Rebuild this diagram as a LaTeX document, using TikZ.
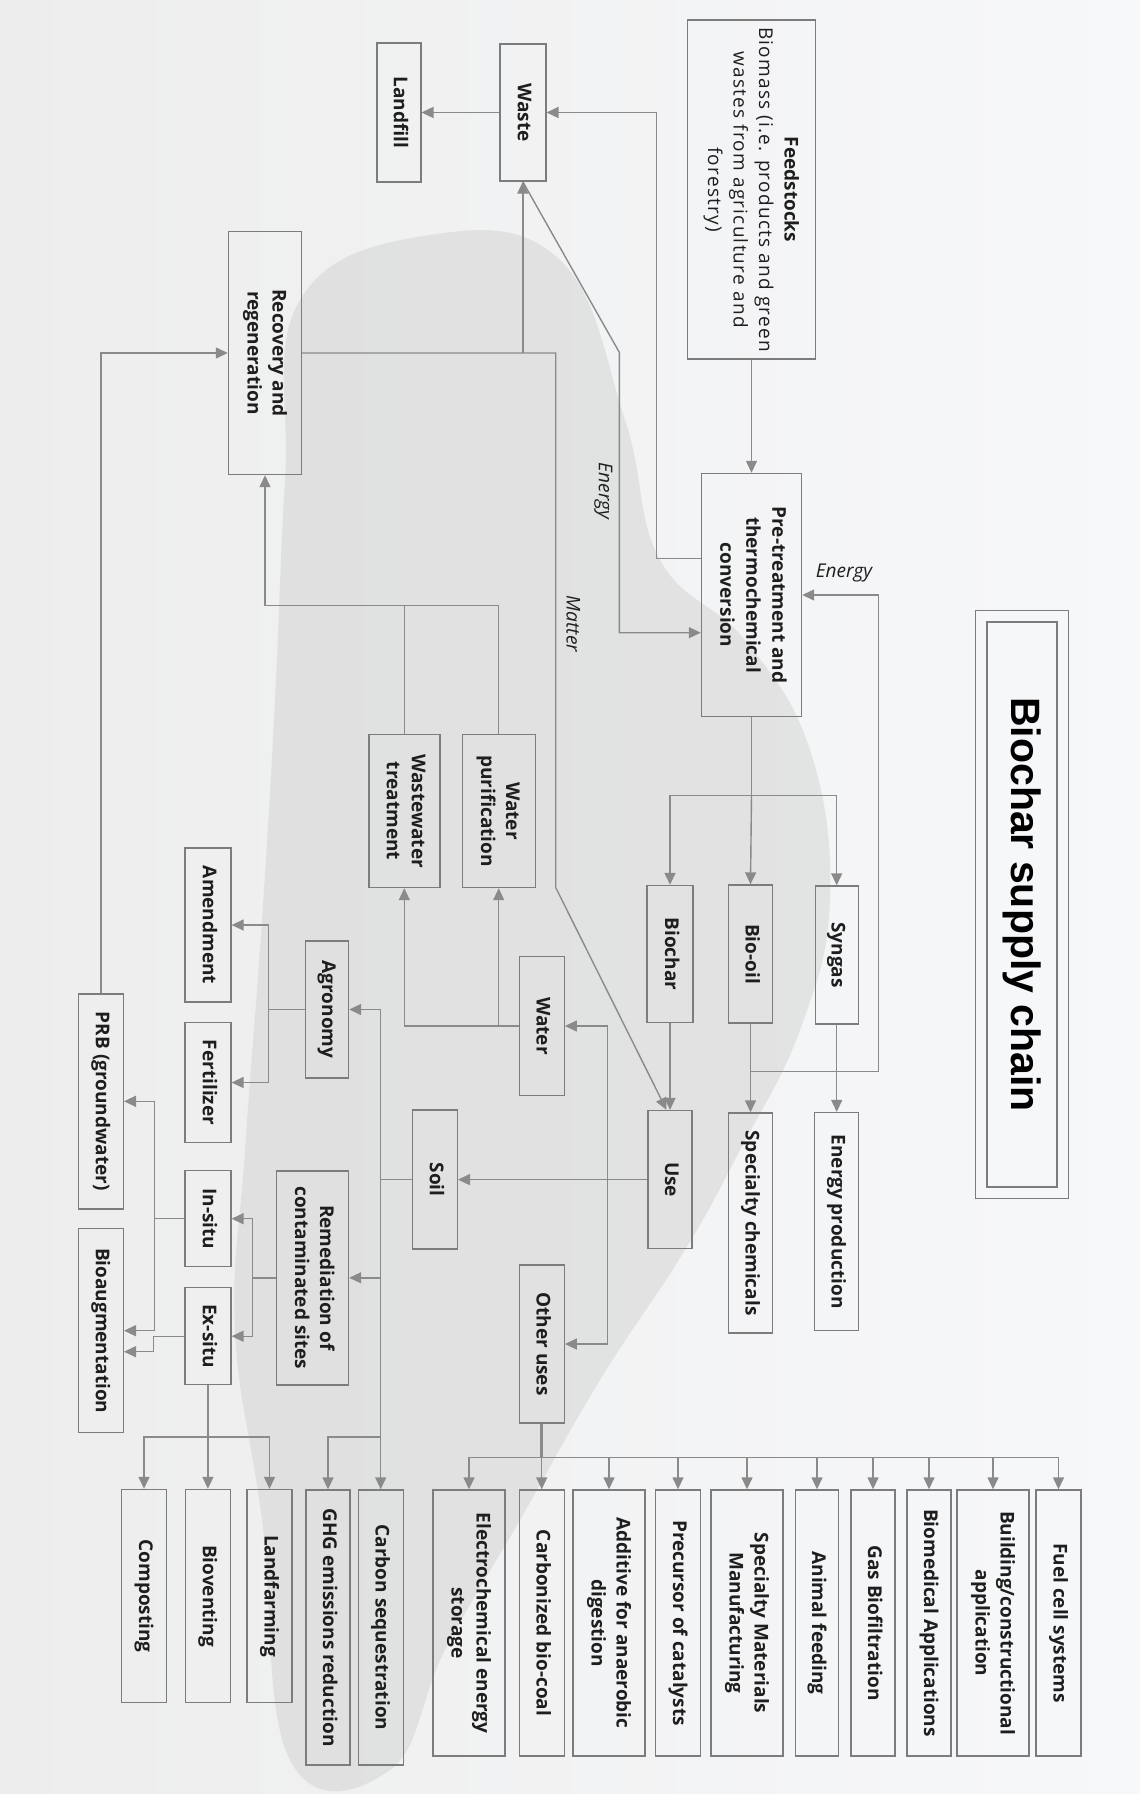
\documentclass[tikz,border=0pt]{standalone}
\usepackage{fontspec}
\setmainfont{Open Sans}
\newfontfamily\titlefont{Liberation Sans}
\usepackage{graphicx}
\usetikzlibrary{arrows.meta, fit}

\definecolor{boxgray}{HTML}{7C7C7C}
\definecolor{linegray}{HTML}{8A8A8A}
\definecolor{textcol}{HTML}{1E1E1E}
\definecolor{bgleft}{HTML}{EDEDED}
\definecolor{bgright}{HTML}{F7F8FA}
\definecolor{blobgray}{HTML}{D2D2D2}

\newcommand{\vtext}[1]{\rotatebox{-90}{\begin{tabular}{@{}c@{}}#1\end{tabular}}}

\tikzset{
  box/.style={rectangle, draw=boxgray, line width=1.4pt, inner sep=0pt, text=textcol, font=\fontsize{19}{25}\selectfont\bfseries},
  bx/.style 2 args={box, minimum width=#1, minimum height=#2},
}

\begin{document}
\begin{tikzpicture}[
  x=1pt, y=-1pt,
  line/.style={draw=linegray, line width=1.4pt},
  arrow/.style={line, -{Triangle[length=12pt, width=11pt]}},
  flowlabel/.style={inner sep=0pt, text=textcol, font=\fontsize{19}{22}\selectfont\itshape},
]
\useasboundingbox (0,0) rectangle (1140,1794);

% Background
\shade[left color=bgleft, right color=bgright] (0,0) rectangle (1140,1794);
\fill[blobgray, opacity=0.5] plot[smooth cycle, tension=0.7] coordinates {
  (300,300) (430,235) (560,260) (625,420) (660,560) (745,640) (810,750)
  (830,900) (800,1030) (740,1150) (685,1250) (600,1380) (520,1520)
  (445,1650) (390,1770) (290,1760) (262,1520) (235,1330) (245,1150)
  (262,920) (275,700) (285,480)};

% Title
\node[bx={70pt}{565pt}, text=black, font=\titlefont\fontsize{41}{45}\selectfont\bfseries] (title) at (1022,904.5) {\rotatebox{-90}{Biochar supply chain}};
\node[draw=boxgray, line width=1.4pt, fit=(title), inner sep=11pt] (titleframe) {};

% Feedstocks and conversion
\node[bx={128pt}{339pt}, font=\fontsize{19}{25.5}\selectfont] (feed) at (751.5,189.5) {\vtext{\textbf{Feedstocks}\\\addfontfeatures{LetterSpace=6.5}Biomass (i.e. products and green\\\addfontfeatures{LetterSpace=6.5}wastes from agriculture and\\\addfontfeatures{LetterSpace=6.5}forestry)}};
\node[bx={100pt}{243pt}, font=\fontsize{19}{26}\selectfont\bfseries] (pre) at (751.5,595) {\vtext{Pre-treatment and\\thermochemical\\conversion}};
\node[bx={46pt}{137pt}] (waste) at (522.8,112.5) {\vtext{Waste}};
\node[bx={44pt}{139pt}] (landfill) at (398.8,112.5) {\vtext{Landfill}};
\node[bx={73pt}{243pt}] (recov) at (265,353) {\vtext{Recovery and\\regeneration}};

% Products
\node[bx={46pt}{137pt}] (biochar) at (670,954) {\vtext{Biochar}};
\node[bx={44pt}{138pt}] (biooil) at (750.5,954) {\vtext{Bio-oil}};
\node[bx={43pt}{138pt}] (syngas) at (836.7,955) {\vtext{Syngas}};
\node[bx={44pt}{138pt}] (use) at (670,1179.6) {\vtext{Use}};
\node[bx={44pt}{220pt}] (spchem) at (750.5,1223) {\vtext{Specialty chemicals}};
\node[bx={44pt}{218pt}] (enprod) at (836.7,1221.6) {\vtext{Energy production}};

% Water
\node[bx={45pt}{139pt}] (water) at (541.7,1026) {\vtext{Water}};
\node[bx={73pt}{153pt}] (watpur) at (498.7,811) {\vtext{Water\\purification}};
\node[bx={71pt}{153pt}] (wastew) at (404.3,811) {\vtext{Wastewater\\treatment}};

% Soil
\node[bx={45pt}{139pt}] (soil) at (434.8,1179.6) {\vtext{Soil}};
\node[bx={43pt}{137pt}] (agro) at (327,1009.5) {\vtext{Agronomy}};
\node[bx={46pt}{154pt}] (amend) at (207.9,925) {\vtext{Amendment}};
\node[bx={46pt}{120pt}] (fert) at (207.9,1082.5) {\vtext{Fertilizer}};
\node[bx={72pt}{214pt}] (remed) at (312.5,1277.8) {\vtext{Remediation of\\contaminated sites}};
\node[bx={46pt}{96pt}] (insitu) at (207.9,1218.7) {\vtext{In-situ}};
\node[bx={46pt}{97pt}] (exsitu) at (207.9,1336.2) {\vtext{Ex-situ}};
\node[bx={45pt}{215pt}] (prb) at (100.8,1101.3) {\vtext{PRB (groundwater)}};
\node[bx={45pt}{204pt}] (bioaug) at (100.8,1330.7) {\vtext{Bioaugmentation}};
\node[bx={45pt}{213pt}] (composting) at (144,1596) {\vtext{Composting}};
\node[bx={45pt}{213pt}] (bioventing) at (207.9,1596) {\vtext{Bioventing}};
\node[bx={45pt}{213pt}] (landfarming) at (269.5,1596) {\vtext{Landfarming}};
\node[bx={44pt}{275pt}] (ghg) at (328,1627.5) {\vtext{GHG emissions reduction}};
\node[bx={45pt}{275pt}] (carbonseq) at (380.7,1627.5) {\vtext{Carbon sequestration}};

% Other uses
\node[bx={45pt}{158pt}] (other) at (541.7,1344) {\vtext{Other uses}};
\node[bx={72pt}{266pt}] (electro) at (469,1623) {\vtext{Electrochemical energy\\storage}};
\node[bx={45pt}{266pt}] (carbonized) at (541.7,1623) {\vtext{Carbonized bio-coal}};
\node[bx={72pt}{266pt}] (additive) at (609,1623) {\vtext{Additive for anaerobic\\digestion}};
\node[bx={45pt}{266pt}] (precursor) at (678,1623) {\vtext{Precursor of catalysts}};
\node[bx={72pt}{266pt}] (specmat) at (747,1623) {\vtext{Specialty Materials\\Manufacturing}};
\node[bx={43pt}{266pt}] (animal) at (817,1623) {\vtext{Animal feeding}};
\node[bx={44pt}{266pt}] (gasbio) at (873,1623) {\vtext{Gas Biofiltration}};
\node[bx={44pt}{266pt}] (biomed) at (929,1623) {\vtext{Biomedical Applications}};
\node[bx={72pt}{266pt}] (building) at (993,1623) {\vtext{Building/constructional\\application}};
\node[bx={45pt}{266pt}] (fuelcell) at (1058.5,1623) {\vtext{Fuel cell systems}};

% Junctions
\coordinate (e1) at (656.7,558.3);
\coordinate (e2) at (619.3,352.3);
\coordinate (e2b) at (619.3,632.7);
\coordinate (m1) at (555.7,353);
\coordinate (m2) at (555.7,887.5);
\coordinate (split) at (751.5,795.4);
\coordinate (fb) at (878.5,1071.4);
\coordinate (uj) at (607.3,1179.6);
\coordinate (rj) at (265,605.5);
\coordinate (sj) at (380.7,1179.6);
\coordinate (sb) at (380.7,1436.8);
\coordinate (aj) at (268.7,1009.5);
\coordinate (rmj) at (252.7,1277.8);
\coordinate (ij) at (154.3,1218.7);
\coordinate (xj) at (207.9,1436.8);
\coordinate (oj) at (541.7,1457.2);

% Connections
\draw[arrow] (feed.south) -- (pre.north);
\draw[arrow] (e1 -| pre.west) -- (e1) |- (waste.east);
\draw[arrow] (waste.west) -- (landfill.east);
\draw[arrow] (waste.south) -- (e2) -- (e2b) -- (e2b -| pre.west);
\draw[arrow] (recov.east) -- (m1) -- (m2) -- ([xshift=-3.5pt]use.north);
\draw[arrow] (m1 -| waste.south) -- (waste.south);
\draw[line] (pre.south) -- (split);
\draw[arrow] (split) -| (biochar.north);
\draw[arrow] (split) -- (biooil.north);
\draw[arrow] (split) -| (syngas.north);
\draw[arrow] (biochar.south) -- (use.north);
\draw[arrow] (biooil.south) -- (spchem.north);
\draw[arrow] (syngas.south) -- (enprod.north);
\draw[arrow] (biooil.south |- fb) -- (fb) |- (pre.east);
\draw[arrow] (use.west) -- (soil.east);
\draw[arrow] (uj) |- (water.east);
\draw[arrow] (uj) |- (other.east);
\draw[arrow] (water.west) -| (wastew.south);
\draw[arrow] (water.west -| watpur.south) -- (watpur.south);
\draw[line] (watpur.north) |- (rj);
\draw[line] (wastew.north) -- (wastew.north |- rj);
\draw[arrow] (rj) -- (recov.south);
\draw[arrow] (prb.north) |- (recov.west);
\draw[line] (soil.west) -- (sj);
\draw[arrow] (sj) |- (agro.east);
\draw[arrow] (sj) |- (remed.east);
\draw[arrow] (sj) -- (carbonseq.north);
\draw[arrow] (sb) -| (ghg.north);
\draw[line] (agro.west) -- (aj);
\draw[arrow] (aj) |- (amend.east);
\draw[arrow] (aj) |- (fert.east);
\draw[line] (remed.west) -- (rmj);
\draw[arrow] (rmj) |- (insitu.east);
\draw[arrow] (rmj) |- (exsitu.east);
\draw[line] (insitu.west) -- (ij);
\draw[arrow] (ij) |- (prb.east);
\draw[arrow] (ij) |- (bioaug.east);
\draw[arrow] (exsitu.west) -- ++(-30.7,0) |- ([yshift=-21pt]bioaug.east);
\draw[line] (exsitu.south) -- (xj);
\draw[arrow] (xj) -| (composting.north);
\draw[arrow] (xj) -- (bioventing.north);
\draw[arrow] (xj) -| (landfarming.north);
\draw[line, line width=3pt] (other.south) -- (oj);
\draw[arrow] (oj) -| (electro.north);
\draw[arrow] (oj) -- (carbonized.north);
\draw[arrow] (oj) -| (additive.north);
\draw[arrow] (oj) -| (precursor.north);
\draw[arrow] (oj) -| (specmat.north);
\draw[arrow] (oj) -| (animal.north);
\draw[arrow] (oj) -| (gasbio.north);
\draw[arrow] (oj) -| (biomed.north);
\draw[arrow] (oj) -| (building.north);
\draw[arrow] (oj) -| (fuelcell.north);

% Flow labels
\node[flowlabel, rotate=-90] (lblenergy) at (603.3,491) {Energy};
\node[flowlabel, rotate=-90] (lblmatter) at (573.3,624) {Matter};
\node[flowlabel] (lblfeedback) at (844,572.7) {Energy};

\end{tikzpicture}
\end{document}
